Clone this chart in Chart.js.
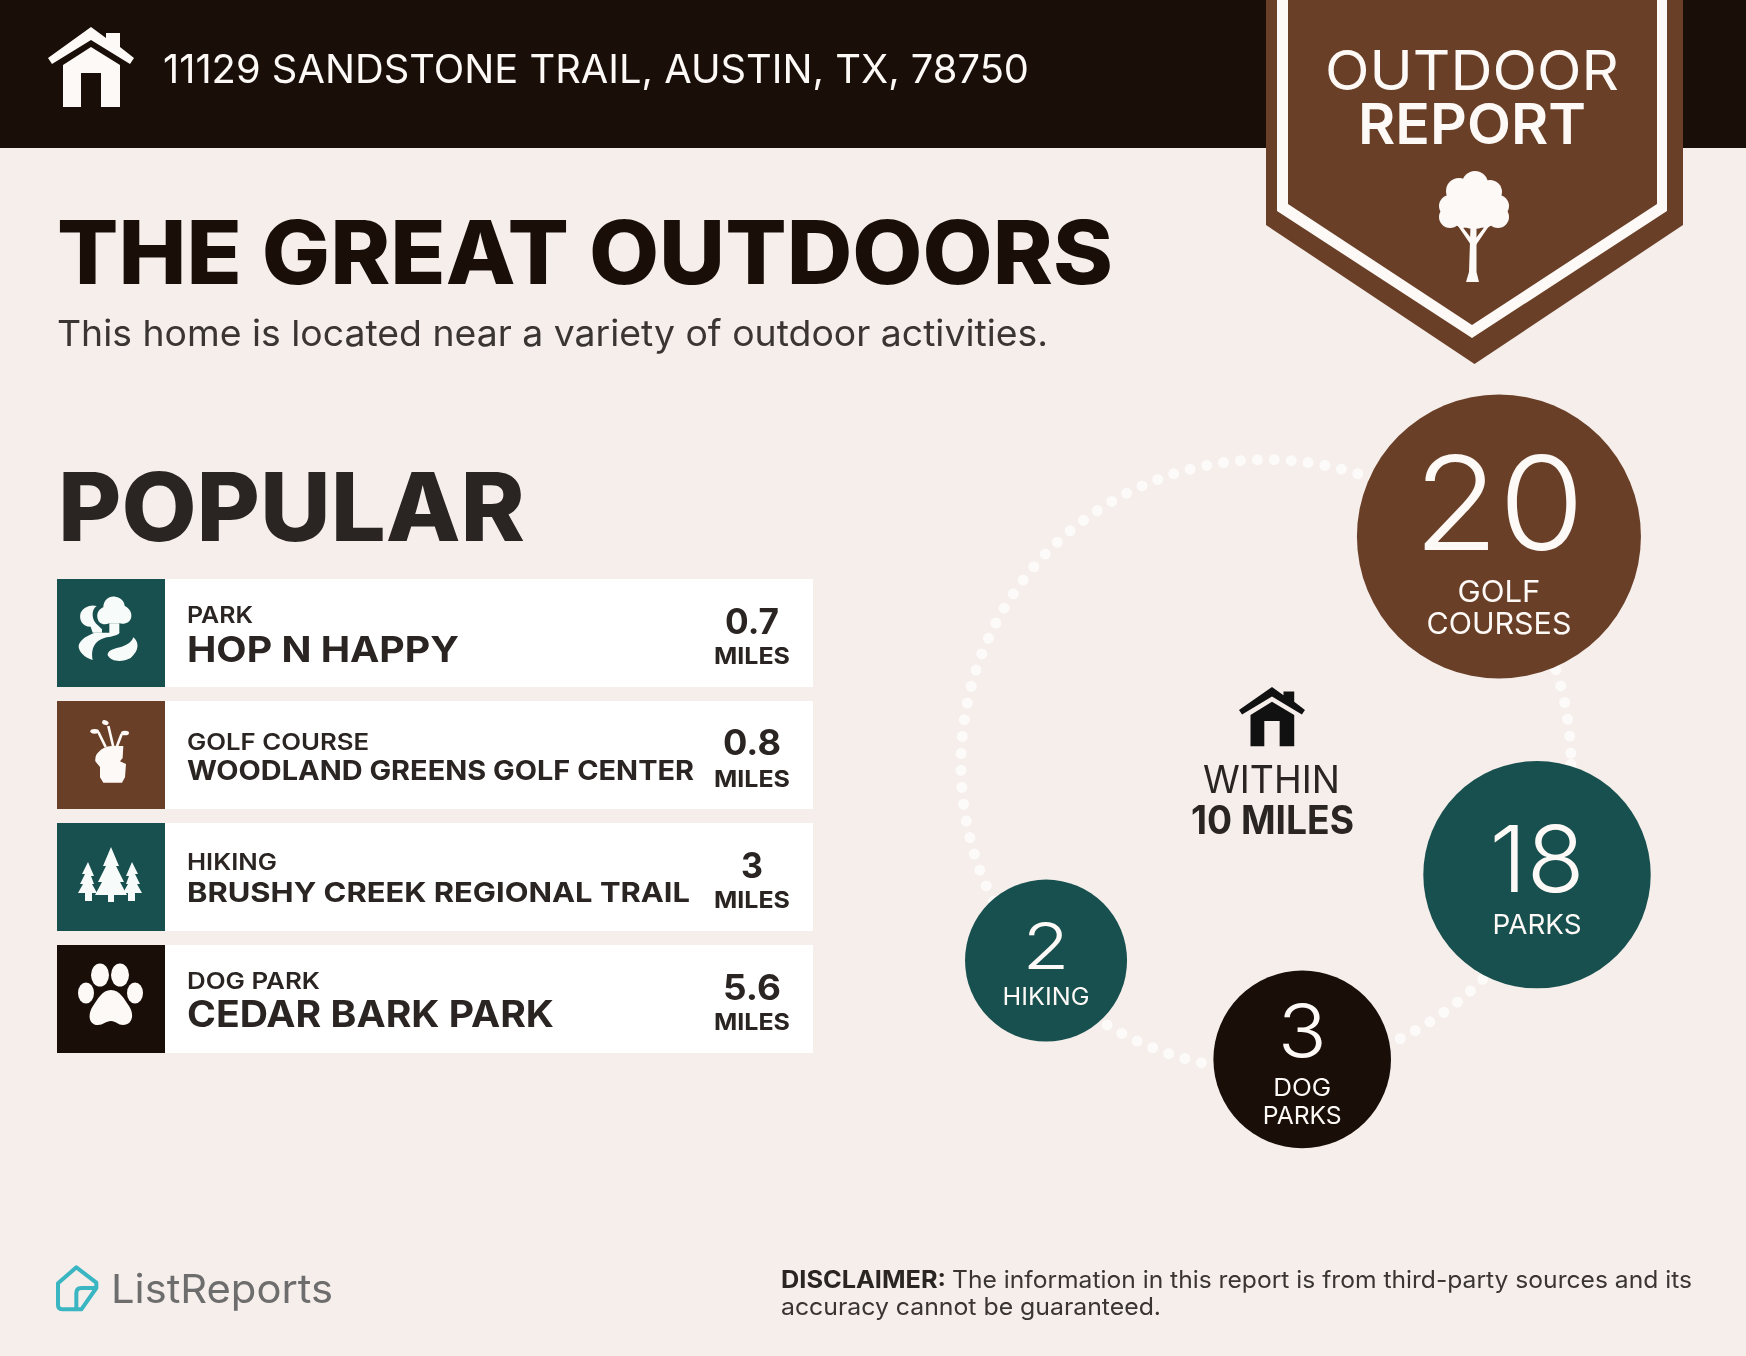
<!DOCTYPE html>
<html>
<head>
<meta charset="utf-8">
<title>Outdoor Report</title>
<script src="https://cdn.jsdelivr.net/npm/chart.js@4"></script>
<style>
html, body { margin: 0; padding: 0; background: #f5eeeb; }
#page { position: relative; width: 1746px; height: 1356px; overflow: hidden; background: #f5eeeb; font-family: Inter, sans-serif; }
#page > * { position: absolute; }
#page span { white-space: nowrap; line-height: 1; transform-origin: 0 0; }
#header { left: 0; top: 0; width: 1746px; height: 148px; background: #190e08; }
#art { left: 0; top: 0; }
#bubbles { left: 0; top: 0; }
</style>
</head>
<body>
<div id="page">
  <div id="header"></div>
  <canvas id="bubbles" width="1746" height="1356" style="width:1746px;height:1356px"></canvas>
  <svg id="art" width="1746" height="1356" viewBox="0 0 1746 1356">
    <!-- badge -->
    <polygon points="1266,0 1683,0 1683,225 1474.5,364 1266,225" fill="#6a3f27"/>
    <path d="M1277 0H1667V211L1472 338L1277 211ZM1288 0V204L1472 325L1657 204V0Z" fill="#fdf9f6" fill-rule="evenodd"/>
    <g fill="#fdf9f6">
      <circle cx="1475" cy="184" r="13"/><circle cx="1459" cy="191" r="13"/><circle cx="1490" cy="192" r="12"/>
      <circle cx="1450" cy="206" r="11"/><circle cx="1498" cy="206" r="11"/><circle cx="1450" cy="217" r="11"/>
      <circle cx="1498" cy="217" r="11"/><circle cx="1474" cy="205" r="24"/><circle cx="1463" cy="219" r="9"/><circle cx="1485" cy="219" r="9"/>
      <path d="M1470.5 226H1476.5V272L1479 282H1466L1469 272Z"/>
      <path d="M1458 226L1461 225L1471 238V245ZM1489 226L1486 225L1476 238V245Z"/>
    </g>
    <!-- park icon -->
    <g fill="#f7fbfa" transform="translate(70 590) scale(0.3333)">
      <path d="M118 100C100 108 84 100 82 82C80 66 90 56 100 52C100 30 118 16 136 20C154 22 164 36 164 48C178 54 186 68 184 80C182 96 166 104 148 100Z"/>
      <path d="M118 100H148V125C152 134 130 138 110 142C86 148 60 164 68 210C46 204 24 186 26 166C32 146 54 136 74 128H118Z"/>
      <path d="M80 48C62 60 64 92 86 108L96 118V128H68L62 110C36 110 26 88 32 68C40 52 62 42 80 48Z"/>
      <path d="M190 142C208 156 208 182 182 204C156 218 124 216 113 196C112 182 130 176 150 172C170 166 184 158 190 142Z"/>
    </g>
    <!-- golf bag icon -->
    <g transform="translate(70 712) scale(0.3333)">
      <path d="M107 105L85 60M130 105L115 42M140 105L155 66" fill="none" stroke="#fdf9f6" stroke-width="8"/>
      <g fill="#fdf9f6">
        <ellipse cx="74" cy="58" rx="13" ry="7"/><ellipse cx="106" cy="32" rx="10" ry="7" transform="rotate(20 106 32)"/><ellipse cx="165" cy="63" rx="12" ry="7"/>
        <path d="M86 120Q100 104 125 102H160L158 138L150 148L168 156L165 196L156 212H100L90 196V165L76 148Q74 130 86 120Z"/>
      </g>
    </g>
    <!-- pines icon -->
    <g fill="#f7fbfa">
      <path d="M111 847L119 866H116L124 882H120L127 895H114V902H108V895H95L102 882H98L106 866H103Z"/>
      <path d="M88 862L94 876L91 876L94 884L92 884L97 893H92V901H85V893H78L83 884L80 884L85 874H82Z"/>
      <path d="M132 862L138 874H135L140 884L137 884L142 893H135V901H128V893H123L128 884L126 884L129 876L126 876Z"/>
    </g>
    <!-- paw icon -->
    <g fill="#fdf9f6">
      <ellipse cx="100" cy="975" rx="9" ry="11.5"/><ellipse cx="120" cy="975" rx="9" ry="11.5"/>
      <ellipse cx="86" cy="993" rx="8" ry="10.5"/><ellipse cx="135" cy="993" rx="8" ry="10.5"/>
      <path d="M111 990C120 990 124 999 129 1006C135 1015 132 1025 123 1025C118 1025 116 1021 111 1021C106 1021 103 1025 98 1025C89 1025 87 1015 93 1006C98 999 102 990 111 990Z"/>
    </g>
    <!-- header and centre houses -->
    <g fill="#fdf9f6" transform="translate(48 27)">
      <path d="M43 0L58 11V6H72V20L86 31L82 37L43 13L4 37L0 31Z"/>
      <path d="M43 20L72 38V80H53V46H33V80H15V38Z"/>
    </g>
    <g fill="#111" transform="translate(1239 687) scale(0.767 0.74)">
      <path d="M43 0L58 11V6H72V20L86 31L82 37L43 13L4 37L0 31Z"/>
      <path d="M43 20L72 38V80H53V46H33V80H15V38Z"/>
    </g>
    <!-- logo mark -->
    <g fill="none" stroke="#3ab5c2" stroke-width="12" stroke-linejoin="round" transform="translate(48 1260) scale(0.3333)">
      <path d="M30 70L85 22L145 68V84L100 148H45Q30 148 30 135Z"/>
      <path d="M146 84H100Q85 84 85 100V146"/>
    </g>
  </svg>
</div>
<script>
// values
const categories = ['GOLF COURSES', 'PARKS', 'DOG PARKS', 'HIKING'];
const counts = [20, 18, 3, 2];
const popularTypes = ['PARK', 'GOLF COURSE', 'HIKING', 'DOG PARK'];
const popularNames = ['HOP N HAPPY', 'WOODLAND GREENS GOLF CENTER', 'BRUSHY CREEK REGIONAL TRAIL', 'CEDAR BARK PARK'];
const popularMiles = ['0.7', '0.8', '3', '5.6'];

// layout of the ring of bubbles
const ringX = 1266, ringY = 764.6, ringR = 305;
const bubbleAngle = [-44.4, 22.1, 83, 138.3];
const bubbleDist = [326, 292.5, 297, 294.6];
const bubbleRadius = [142, 113.7, 88.8, 81];
const bubbleColor = ['#6a3f27', '#17504e', '#190e08', '#17504e'];
const numSize = [130, 92, 73, 64];
const numWidth = [171, 95, 49, 47];
const numBase = [13, 17.4, -2, 8];
const labelLines = [['GOLF', 'COURSES'], ['PARKS'], ['DOG', 'PARKS'], ['HIKING']];
const labelSize = [30, 27, 24, 24];
const labelBase = [[65, 97.5], [59.6], [36.8, 64.2], [44.5]];
const labelWidth = [[83, 145], [89], [58, 79], [87]];

// layout of the list
const rowTop = [579, 701, 823, 945];
const rowColor = ['#17504e', '#6a3f27', '#17504e', '#190e08'];
const typeBase = [624, 750.5, 870.5, 990];
const typeWidth = [66, 182, 90, 133];
const nameBase = [661.7, 780.5, 903, 1027.5];
const nameSize = [36, 27, 27.5, 36.5];
const nameWidth = [272, 507, 503, 367];
const milesBase = [634, 755.7, 878, 1000];
const milesWidth = [54, 58, 22, 58];
const unitBase = [664.5, 787, 908.5, 1030.5];

const page = document.getElementById('page');
const art = document.getElementById('art');

// puts a text on the page by its baseline, stretched to the given width
function put(str, x, base, size, weight, color, width, center) {
    const el = document.createElement('span');
    el.textContent = str;
    el.style.fontSize = size + 'px';
    el.style.fontWeight = weight;
    el.style.color = color;
    el.style.top = (base - 0.864 * size) + 'px';
    page.appendChild(el);
    const natural = el.getBoundingClientRect().width;
    el.style.transform = `scaleX(${width / natural})`;
    el.style.left = (center ? x - width / 2 : x) + 'px';
}

function addRows() {
    popularNames.forEach((name, i) => {
        const row = document.createElement('div');
        row.style.cssText = `left:57px;top:${rowTop[i]}px;width:756px;height:108px;background:#fff`;
        const square = document.createElement('div');
        square.style.cssText = `position:absolute;left:0;top:0;width:108px;height:108px;background:${rowColor[i]}`;
        row.appendChild(square);
        page.insertBefore(row, art);
        put(popularTypes[i], 186.5, typeBase[i], 23, 600, '#2a2522', typeWidth[i]);
        put(name, 186.5, nameBase[i], nameSize[i], 700, '#2a2522', nameWidth[i]);
        put(popularMiles[i], 752, milesBase[i], 35, 700, '#2a2522', milesWidth[i], true);
        put('MILES', 751.5, unitBase[i], 23.5, 700, '#2a2522', 76, true);
    });
}

put('11129 SANDSTONE TRAIL, AUSTIN, TX, 78750', 163, 84, 40, 400, '#fdf9f6', 866);
put('OUTDOOR', 1472, 91, 55, 400, '#fdf9f6', 294, true);
put('REPORT', 1472, 144, 56, 600, '#fdf9f6', 228, true);
put('THE GREAT OUTDOORS', 57, 284, 88, 800, '#190e08', 1056);
put('This home is located near a variety of outdoor activities.', 57, 345.7, 36, 400, '#3a3532', 991);
put('POPULAR', 58, 541, 95, 800, '#2a2522', 467);
addRows();
put('WITHIN', 1271, 793, 38, 400, '#2a2522', 137, true);
put('10 MILES', 1272, 833.7, 39, 700, '#2a2522', 163, true);
put('ListReports', 111, 1303.7, 40, 400, '#6d6d6d', 222);
put('DISCLAIMER:', 781, 1288.5, 24, 700, '#2a2522', 165);
put('The information in this report is from third-party sources and its', 952, 1288.5, 24, 400, '#3a3532', 740);
put('accuracy cannot be guaranteed.', 781, 1316, 24, 400, '#3a3532', 380);

// dotted ring under the bubbles
const ringPlugin = {
    id: 'ring',
    beforeDatasetsDraw(chart) {
        const { ctx, scales: { x, y } } = chart;
        ctx.save();
        ctx.beginPath();
        ctx.arc(x.getPixelForValue(ringX), y.getPixelForValue(ringY), ringR, 0, Math.PI * 2);
        ctx.strokeStyle = '#fdfbf9';
        ctx.lineWidth = 11;
        ctx.lineCap = 'round';
        ctx.setLineDash([0, 17]);
        ctx.stroke();
        ctx.restore();
    }
};

function fitText(ctx, str, x, y, width) {
    const natural = ctx.measureText(str).width;
    ctx.save();
    ctx.translate(x, y);
    ctx.scale(width / natural, 1);
    ctx.fillText(str, 0, 0);
    ctx.restore();
}

// counts and names inside the bubbles
const labelPlugin = {
    id: 'bubbleLabels',
    afterDatasetsDraw(chart) {
        const ctx = chart.ctx;
        const points = chart.getDatasetMeta(0).data;
        ctx.save();
        ctx.textAlign = 'center';
        ctx.textBaseline = 'alphabetic';
        ctx.fillStyle = '#fdf9f6';
        points.forEach((pt, i) => {
            ctx.font = `300 ${numSize[i]}px Inter`;
            fitText(ctx, String(counts[i]), pt.x, pt.y + numBase[i], numWidth[i]);
            ctx.font = `400 ${labelSize[i]}px Inter`;
            labelLines[i].forEach((line, j) => {
                fitText(ctx, line, pt.x, pt.y + labelBase[i][j], labelWidth[i][j]);
            });
        });
        ctx.restore();
    }
};

new Chart(document.getElementById('bubbles'), {
    type: 'bubble',
    data: {
        labels: categories,
        datasets: [{
            data: counts.map((count, i) => ({
                x: ringX + bubbleDist[i] * Math.cos(bubbleAngle[i] * Math.PI / 180),
                y: ringY + bubbleDist[i] * Math.sin(bubbleAngle[i] * Math.PI / 180),
                r: bubbleRadius[i],
                count: count
            })),
            backgroundColor: bubbleColor,
            borderWidth: 0,
            clip: false
        }]
    },
    options: {
        responsive: false,
        animation: false,
        events: [],
        layout: { padding: 0, autoPadding: false },
        plugins: { legend: { display: false }, tooltip: { enabled: false } },
        scales: {
            x: { type: 'linear', min: 0, max: 1746, display: false },
            y: { type: 'linear', min: 0, max: 1356, reverse: true, display: false }
        }
    },
    plugins: [ringPlugin, labelPlugin]
});
</script>
</body>
</html>
